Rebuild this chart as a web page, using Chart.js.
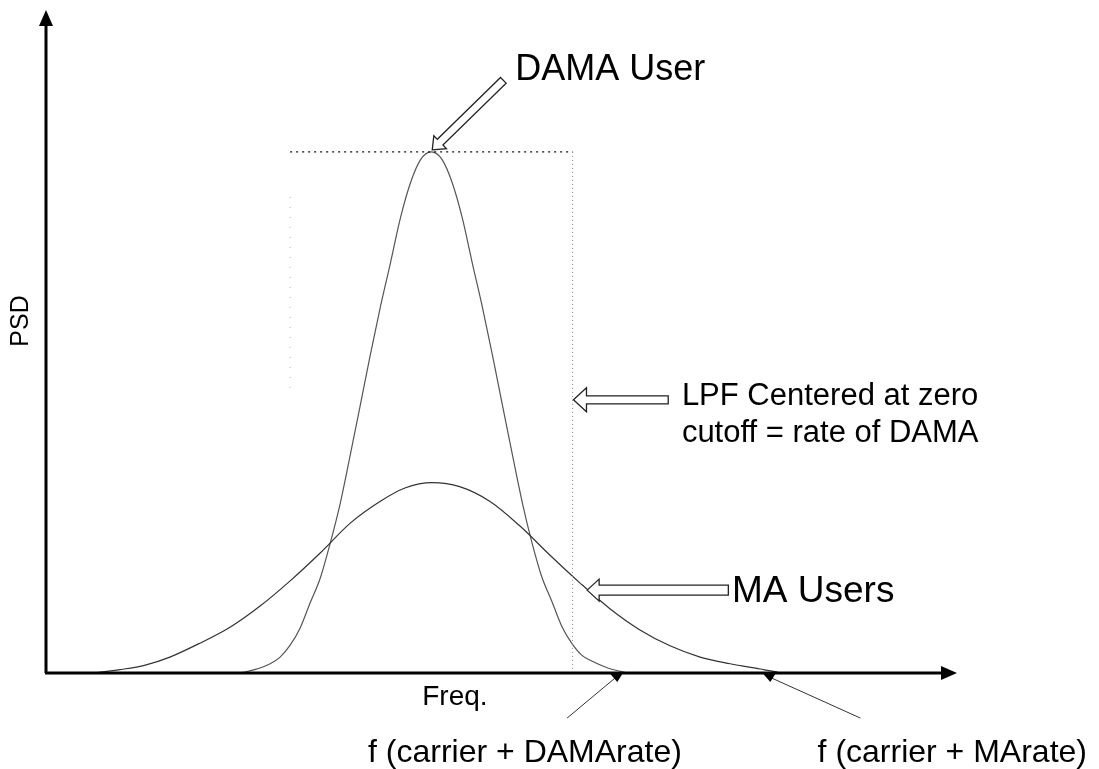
<!DOCTYPE html>
<html>
<head>
<meta charset="utf-8">
<script src="https://cdn.jsdelivr.net/npm/chart.js@4"></script>
<style>
html,body{margin:0;padding:0;background:#fff;}
canvas{display:block;}
</style>
</head>
<body>
<canvas id="c" width="1099" height="769"></canvas>
<script>
// ---- data (frequency 0..100, PSD 0..100, arbitrary units) ----
const damaFreq = [21.3, 22.9, 24.6, 25.7, 26.8, 27.9, 29.0, 30.1, 31.2, 32.3, 33.4, 34.5, 35.6, 36.7, 37.8, 38.9, 40.0, 41.1, 42.3,
                  43.5, 44.6, 45.7, 46.8, 47.9, 49.0, 50.1, 51.2, 52.3, 53.3, 54.4, 55.5, 56.6, 57.7, 58.8, 59.9, 61.6, 63.2, 63.8];
const damaPsd  = [0.0, 0.5, 1.4, 2.4, 4.2, 6.8, 10.6, 14.3, 19.6, 25.6, 32.9, 40.4, 48.0, 55.2, 61.8, 68.6, 73.9, 77.4, 78.6,
                  77.4, 73.9, 68.6, 61.8, 55.2, 48.0, 40.4, 32.9, 25.6, 19.9, 14.6, 10.9, 7.1, 4.5, 2.7, 1.8, 0.8, 0.2, 0.0];
const maFreq = [5.4, 8.1, 10.9, 13.6, 16.9, 20.2, 23.5, 26.8, 30.1, 33.4, 36.7, 39.4, 42.4,
                45.4, 48.7, 52.0, 55.3, 58.6, 61.9, 65.2, 68.5, 71.8, 75.1, 78.4, 80.0, 80.6];
const maPsd  = [0.0, 0.5, 1.2, 2.4, 4.5, 6.9, 10.1, 13.9, 18.1, 22.6, 25.9, 27.9, 28.7,
                28.1, 25.9, 22.2, 17.8, 13.6, 9.7, 6.5, 4.1, 2.4, 1.4, 0.6, 0.2, 0.0];
const lpfEdges = [26.8, 57.8];       // LPF box left / right frequency
const lpfLevel = 78.6;                // LPF passband level
const lpfLeftSide = [71.8, 42.4];     // visible part of left edge
const rateMarks = [62.6, 79.4];       // f(carrier+DAMArate), f(carrier+MArate)
const rateLabels = ["f (carrier + DAMArate)", "f (carrier + MArate)"];
const axisLabels = {x: "Freq.", y: "PSD"};
const noteLabels = {dama: "DAMA User", lpf: ["LPF Centered at zero", "cutoff = rate of DAMA"], ma: "MA Users"};

const pts = (xs, ys) => xs.map((x, i) => ({x: x, y: ys[i]}));

const FONT = '"Liberation Sans", Arial, Helvetica, sans-serif';

function hollowArrow(ctx, tip, tail, shaftHalf, headHalf, headLen) {
  const dx = tail.x - tip.x, dy = tail.y - tip.y;
  const L = Math.hypot(dx, dy);
  const ux = dx / L, uy = dy / L;
  const nx = -uy, ny = ux;
  const bx = tip.x + ux * headLen, by = tip.y + uy * headLen;
  ctx.beginPath();
  ctx.moveTo(tip.x, tip.y);
  ctx.lineTo(bx + nx * headHalf, by + ny * headHalf);
  ctx.lineTo(bx + nx * shaftHalf, by + ny * shaftHalf);
  ctx.lineTo(tail.x + nx * shaftHalf, tail.y + ny * shaftHalf);
  ctx.lineTo(tail.x - nx * shaftHalf, tail.y - ny * shaftHalf);
  ctx.lineTo(bx - nx * shaftHalf, by - ny * shaftHalf);
  ctx.lineTo(bx - nx * headHalf, by - ny * headHalf);
  ctx.closePath();
  ctx.fillStyle = '#fff';
  ctx.fill();
  ctx.strokeStyle = '#222';
  ctx.lineWidth = 1.3;
  ctx.stroke();
}

const decor = {
  id: 'decor',
  afterDatasetsDraw(chart) {
    const ctx = chart.ctx;
    const xs = chart.scales.x, ys = chart.scales.y;
    const P = (x, y) => ({x: xs.getPixelForValue(x), y: ys.getPixelForValue(y)});
    const a = chart.chartArea;
    ctx.save();
    // axes
    ctx.strokeStyle = '#000';
    ctx.fillStyle = '#000';
    ctx.lineWidth = 3;
    ctx.beginPath();
    ctx.moveTo(a.left, a.bottom);
    ctx.lineTo(a.left, a.top + 12);
    ctx.moveTo(a.left - 1, a.bottom);
    ctx.lineTo(a.right - 12, a.bottom);
    ctx.stroke();
    ctx.beginPath();
    ctx.moveTo(a.left, a.top);
    ctx.lineTo(a.left - 7, a.top + 16);
    ctx.lineTo(a.left + 7, a.top + 16);
    ctx.closePath();
    ctx.fill();
    ctx.beginPath();
    ctx.moveTo(a.right, a.bottom);
    ctx.lineTo(a.right - 16, a.bottom - 7);
    ctx.lineTo(a.right - 16, a.bottom + 7);
    ctx.closePath();
    ctx.fill();

    // rate marker leader lines
    ctx.strokeStyle = '#333';
    ctx.lineWidth = 1;
    const m1 = P(rateMarks[0], 0), m2 = P(rateMarks[1], 0);
    const l1 = P(57.2, -6.8), l2 = P(89.4, -6.8);
    ctx.beginPath();
    ctx.moveTo(m1.x, m1.y + 4); ctx.lineTo(l1.x, l1.y);
    ctx.moveTo(m2.x, m2.y + 4); ctx.lineTo(l2.x, l2.y);
    ctx.stroke();
    ctx.fillStyle = '#000';
    [m1, m2].forEach(m => {
      ctx.beginPath();
      ctx.moveTo(m.x - 6, m.y + 1);
      ctx.lineTo(m.x + 6, m.y + 1);
      ctx.lineTo(m.x + 1, m.y + 9);
      ctx.closePath();
      ctx.fill();
    });

    // hollow arrows
    hollowArrow(ctx, P(42.4, 78.9), P(50.2, 89.4), 4, 9, 11);
    hollowArrow(ctx, P(57.9, 41.2), P(68.3, 41.2), 4, 12, 13);
    hollowArrow(ctx, P(59.4, 12.5), P(74.9, 12.5), 5, 11, 12);

    // texts
    ctx.fillStyle = '#000';
    ctx.textBaseline = 'alphabetic';
    ctx.textAlign = 'left';
    ctx.font = '36px ' + FONT;
    let p = P(51.5, 89.4);
    ctx.fillText(noteLabels.dama, p.x, p.y);
    ctx.font = '31px ' + FONT;
    p = P(69.8, 40.4);
    ctx.fillText(noteLabels.lpf[0], p.x, p.y);
    p = P(69.8, 34.8);
    ctx.fillText(noteLabels.lpf[1], p.x, p.y);
    ctx.font = '37px ' + FONT;
    p = P(75.3, 10.7);
    ctx.fillText(noteLabels.ma, p.x, p.y);
    ctx.font = '28px ' + FONT;
    p = P(41.3, -4.8);
    ctx.fillText(axisLabels.x, p.x, p.y);
    ctx.font = '32px ' + FONT;
    ctx.textAlign = 'right';
    p = P(69.8, -13.4);
    ctx.fillText(rateLabels[0], p.x, p.y);
    ctx.textAlign = 'left';
    p = P(84.7, -13.4);
    ctx.fillText(rateLabels[1], p.x, p.y);
    // y label
    p = P(-2.7, 53.1);
    ctx.save();
    ctx.translate(p.x, p.y);
    ctx.rotate(-Math.PI / 2);
    ctx.textAlign = 'center';
    ctx.textBaseline = 'middle';
    ctx.font = '25px ' + FONT;
    ctx.fillText(axisLabels.y, 0, 0);
    ctx.restore();
    ctx.restore();
  }
};

new Chart(document.getElementById('c'), {
  type: 'line',
  data: {
    datasets: [
      {label: 'LPF', data: [{x: lpfEdges[0], y: lpfLevel}, {x: lpfEdges[1], y: lpfLevel}],
       borderColor: '#111', borderWidth: 1.3, borderDash: [2, 4], pointRadius: 0, tension: 0},
      {label: 'LPF right', data: [{x: lpfEdges[1], y: lpfLevel}, {x: lpfEdges[1], y: 0}],
       borderColor: '#888', borderWidth: 1, borderDash: [1, 3], pointRadius: 0, tension: 0},
      {label: 'LPF left', data: [{x: lpfEdges[0], y: lpfLeftSide[0]}, {x: lpfEdges[0], y: lpfLeftSide[1]}],
       borderColor: '#aaa', borderWidth: 1, borderDash: [1, 9], pointRadius: 0, tension: 0},
      {label: 'MA Users', data: pts(maFreq, maPsd),
       borderColor: '#333', borderWidth: 1.2, pointRadius: 0, cubicInterpolationMode: 'monotone'},
      {label: 'DAMA User', data: pts(damaFreq, damaPsd),
       borderColor: '#555', borderWidth: 1.2, pointRadius: 0, cubicInterpolationMode: 'monotone'}
    ]
  },
  options: {
    responsive: false,
    animation: false,
    layout: {padding: {left: 46, right: 142, top: 10, bottom: 96}},
    scales: {
      x: {type: 'linear', min: 0, max: 100, display: false},
      y: {type: 'linear', min: 0, max: 100, display: false}
    },
    plugins: {legend: {display: false}, tooltip: {enabled: false}}
  },
  plugins: [decor]
});
</script>
</body>
</html>
